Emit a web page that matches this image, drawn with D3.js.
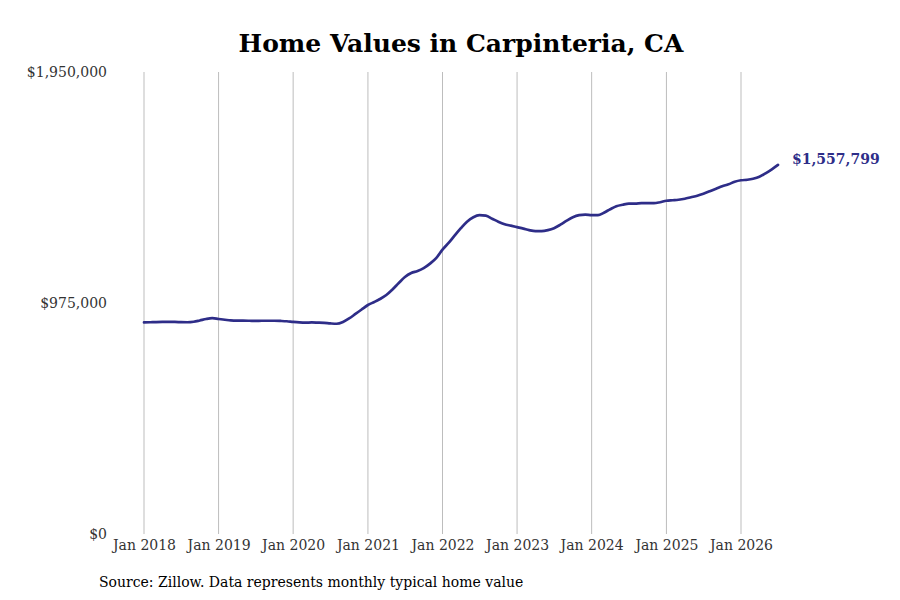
<!DOCTYPE html>
<html>
<head>
<meta charset="utf-8">
<script src="https://cdn.jsdelivr.net/npm/d3@7"></script>
<style>
  body { margin: 0; background: #fff; }
  svg { display: block; }
</style>
</head>
<body>
<div id="chart"></div>
<script>
// Monthly typical home value, Jan 2018 .. Jul 2026
const START_MONTH = '2018-01'
const VALUES = [
  892900, 893700, 894600, 895000, 895000, 895000, 894100, 893700, 895800, 901300, 907600, 911000,
  907600, 904300, 901300, 900500, 900500, 900000, 899200, 900000, 900000, 900000, 899200, 897900,
  895000, 892900, 892000, 892900, 892000, 890800, 888700, 887400, 895000, 909700, 928700, 947600,
  966600, 979200, 991800, 1008700, 1031900, 1059200, 1084500, 1101400, 1109800, 1122400, 1141400, 1164500,
  1200300, 1229800, 1259300, 1290900, 1318300, 1337200, 1345600, 1343500, 1330900, 1318200, 1307700, 1301400,
  1295100, 1288800, 1282500, 1278200, 1278200, 1282500, 1290900, 1305600, 1322500, 1337200, 1345600, 1347700,
  1345600, 1345600, 1356200, 1370900, 1383500, 1389800, 1394100, 1394100, 1396200, 1396200, 1396200, 1400400,
  1406700, 1408800, 1410900, 1415100, 1421400, 1427800, 1436200, 1446700, 1457200, 1467800, 1476200, 1486700,
  1493000, 1495100, 1499400, 1507800, 1522500, 1539400, 1557799
]
const Y_TICKS = [0, 975000, 1950000]
const X_TICK_YEARS = [2018, 2019, 2020, 2021, 2022, 2023, 2024, 2025, 2026]

const TITLE = 'Home Values in Carpinteria, CA'
const SOURCE = 'Source: Zillow. Data represents monthly typical home value'
const LINE_COLOR = '#2E2D88'
const FONT = '"DejaVu Serif", serif'

const width = 900
const height = 600
const margin = { top: 72, right: 159, bottom: 66, left: 144 }

const parseMonth = d3.timeParse('%Y-%m')
const start = parseMonth(START_MONTH)
const data = VALUES.map((v, i) => ({ date: d3.timeMonth.offset(start, i), value: v }))

const x = d3.scaleTime()
  .domain([new Date(2018, 0, 1), new Date(2026, 0, 1)])
  .range([margin.left, width - margin.right])

const y = d3.scaleLinear()
  .domain([0, 1950000])
  .range([height - margin.bottom, margin.top])

const svg = d3.select('#chart').append('svg')
  .attr('width', width)
  .attr('height', height)

// Title
svg.append('text')
  .attr('x', 461).attr('y', 52)
  .attr('text-anchor', 'middle')
  .attr('font-family', FONT)
  .attr('font-weight', 'bold')
  .attr('font-size', '25px')
  .attr('fill', '#000')
  .text(TITLE)

// Vertical gridlines at each January
svg.append('g').attr('class', 'grid-x')
  .selectAll('line')
  .data(X_TICK_YEARS.map(yr => new Date(yr, 0, 1)))
  .join('line')
  .attr('x1', d => x(d)).attr('x2', d => x(d))
  .attr('y1', margin.top).attr('y2', height - margin.bottom)
  .attr('stroke', '#BDBDBD').attr('stroke-width', 1)

// X axis labels
svg.append('g')
  .attr('class', 'x-axis')
  .attr('transform', `translate(0,${height - margin.bottom})`)
  .call(d3.axisBottom(x)
    .tickValues(X_TICK_YEARS.map(yr => new Date(yr, 0, 1)))
    .tickFormat(d3.timeFormat('Jan %Y'))
    .tickSize(0).tickPadding(6))
  .call(g => {
    g.select('.domain').remove()
    g.selectAll('.tick text')
      .attr('fill', '#333').attr('font-size', '14px')
      .attr('font-family', FONT)
  })

// Y axis labels
svg.append('g')
  .attr('class', 'y-axis')
  .attr('transform', `translate(107,0)`)
  .call(d3.axisLeft(y)
    .tickValues(Y_TICKS)
    .tickFormat(d => '$' + d3.format(',')(d))
    .tickSize(0).tickPadding(0))
  .call(g => {
    g.select('.domain').remove()
    g.selectAll('.tick text')
      .attr('fill', '#333').attr('font-size', '14px')
      .attr('font-family', FONT)
  })

// Line
const line = d3.line()
  .x(d => x(d.date))
  .y(d => y(d.value))
  .curve(d3.curveMonotoneX)

svg.append('path')
  .datum(data)
  .attr('fill', 'none')
  .attr('stroke', LINE_COLOR)
  .attr('stroke-width', 2.7)
  .attr('stroke-linejoin', 'round')
  .attr('stroke-linecap', 'round')
  .attr('d', line)

// End label, sits a little above the last point
const last = data[data.length - 1]
svg.append('text')
  .attr('x', x(last.date) + 14)
  .attr('y', y(last.value) - 6)
  .attr('dy', '0.35em')
  .attr('font-family', FONT)
  .attr('font-weight', 'bold')
  .attr('font-size', '14px')
  .attr('fill', LINE_COLOR)
  .text('$' + d3.format(',')(last.value))

// Source note
svg.append('text')
  .attr('x', 99).attr('y', 587)
  .attr('font-family', FONT)
  .attr('font-size', '14px')
  .attr('fill', '#000')
  .text(SOURCE)
</script>
</body>
</html>
